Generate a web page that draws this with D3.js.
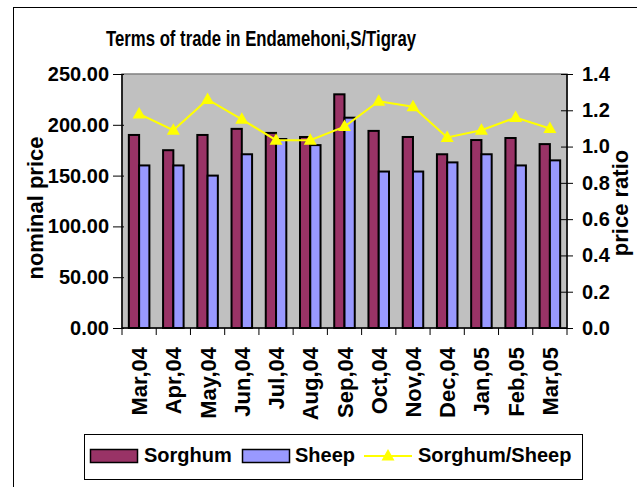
<!DOCTYPE html>
<html>
<head>
<meta charset="utf-8">
<script src="https://cdn.jsdelivr.net/npm/d3@7/dist/d3.min.js"></script>
<style>
  html, body { margin: 0; padding: 0; background: #fff; }
  svg { display: block; }
  text { font-family: "Liberation Sans", Arial, sans-serif; font-weight: bold; fill: #000; }
</style>
</head>
<body>
<script>
const months = ["Mar,04","Apr,04","May,04","Jun,04","Jul,04","Aug,04","Sep,04","Oct,04","Nov,04","Dec,04","Jan,05","Feb,05","Mar,05"];
const sorghum = [190, 175, 190, 196, 192, 188, 230, 194, 188, 171, 185, 187, 181];
const sheep   = [160, 160, 150, 171, 186, 180, 207, 154, 154, 163, 171, 160, 165];
const ratio   = [1.18, 1.09, 1.26, 1.15, 1.035, 1.035, 1.11, 1.25, 1.22, 1.05, 1.09, 1.16, 1.10];
const leftTicks = [0, 50, 100, 150, 200, 250];
const rightTicks = [0, 0.2, 0.4, 0.6, 0.8, 1.0, 1.2, 1.4];
const seriesNames = ["Sorghum", "Sheep", "Sorghum/Sheep"];
const colors = { Sorghum: "#993366", Sheep: "#9999FF", line: "#FFFF00" };

const W = 637, H = 487;
const L = 122, R = 567, T = 74, B = 328;

const svg = d3.select("body").append("svg").attr("width", W).attr("height", H);

// outer chart border (right/bottom outside the picture)
svg.append("rect").attr("x", 13.5).attr("y", 7.5).attr("width", 800).attr("height", 800)
  .attr("fill", "none").attr("stroke", "#000").attr("stroke-width", 1);

// title
svg.append("text").attr("x", 106).attr("y", 46).attr("font-size", 22)
  .attr("textLength", 310).attr("lengthAdjust", "spacingAndGlyphs")
  .text("Terms of trade in Endamehoni,S/Tigray");

const x = d3.scaleBand().domain(months).range([L, R]).paddingInner(0.4).paddingOuter(0.2);
const xs = d3.scaleBand().domain(["Sorghum", "Sheep"]).range([0, x.bandwidth()]);
const y = d3.scaleLinear().domain([0, 250]).range([B, T]);
const y2 = d3.scaleLinear().domain([0, 1.4]).range([B, T]);

// plot area
svg.append("rect").attr("x", L).attr("y", T).attr("width", R - L).attr("height", B - T)
  .attr("fill", "#C0C0C0").attr("stroke", "#808080").attr("stroke-width", 1.5);

// bars
const data = months.map((m, i) => ({ m, Sorghum: sorghum[i], Sheep: sheep[i] }));
const g = svg.append("g");
data.forEach(d => {
  ["Sorghum", "Sheep"].forEach(k => {
    g.append("rect")
      .attr("x", x(d.m) + xs(k))
      .attr("y", y(d[k]))
      .attr("width", xs.bandwidth())
      .attr("height", y(0) - y(d[k]))
      .attr("fill", colors[k]).attr("stroke", "#000").attr("stroke-width", 2);
  });
});

// axes
const axL = svg.append("g").attr("transform", `translate(${L},0)`)
  .call(d3.axisLeft(y).tickValues(leftTicks).tickFormat(d3.format(".2f")).tickSize(9).tickPadding(4));
axL.selectAll(".tick line").attr("x2", -9).attr("x1", 2);
const axR = svg.append("g").attr("transform", `translate(${R},0)`)
  .call(d3.axisRight(y2).tickValues(rightTicks).tickFormat(d3.format(".1f")).tickSize(6).tickPadding(9));
axR.selectAll(".tick line").attr("x1", -6).attr("x2", 6);
const axB = svg.append("g").attr("transform", `translate(0,${B})`)
  .call(d3.axisBottom(x).tickValues([]).tickSizeOuter(0));
// category boundary ticks
const bounds = months.map(m => x(m) - x.step() * x.paddingInner() / 2).concat([R]);
svg.append("g").selectAll("line").data(bounds).join("line")
  .attr("x1", d => d).attr("x2", d => d).attr("y1", B).attr("y2", B + 7)
  .attr("stroke", "#000").attr("stroke-width", 1);

[axL, axR, axB].forEach(a => {
  a.selectAll(".domain").attr("stroke", "#000").attr("stroke-width", 1.5);
  a.selectAll(".tick line").attr("stroke", "#000");
  a.selectAll("text").attr("font-size", 20).attr("font-family", "Liberation Sans, Arial, sans-serif")
    .attr("font-weight", "bold").attr("fill", "#000");
});
axL.select(".domain").attr("d", `M0,${T}V${B}`);
axR.select(".domain").attr("d", `M0,${T}V${B}`);
axB.select(".domain").attr("d", `M${L},0H${R}`);

// x labels
svg.append("g").selectAll("text").data(months).join("text")
  .attr("transform", d => `translate(${x(d) + x.bandwidth() / 2 + 8},347) rotate(-90)`)
  .attr("text-anchor", "end").attr("font-size", 22).text(d => d);

// axis titles
svg.append("text").attr("transform", "translate(43,208) rotate(-90)")
  .attr("text-anchor", "middle").attr("font-size", 22).text("nominal price");
svg.append("text").attr("transform", "translate(628,203) rotate(-90)")
  .attr("text-anchor", "middle").attr("font-size", 22).text("price ratio");

// ratio line
const cx = d => x(d.m) + x.bandwidth() / 2;
const lineData = months.map((m, i) => ({ m, v: ratio[i] }));
svg.append("path").datum(lineData)
  .attr("d", d3.line().x(cx).y(d => y2(d.v)))
  .attr("fill", "none").attr("stroke", colors.line).attr("stroke-width", 2);
const tri = "M0,-7L6.5,4.5L-6.5,4.5Z";
svg.append("g").selectAll("path").data(lineData).join("path")
  .attr("transform", d => `translate(${cx(d)},${y2(d.v)})`)
  .attr("d", tri).attr("fill", colors.line);

// legend
const lg = svg.append("g");
lg.append("rect").attr("x", 84.5).attr("y", 434.5).attr("width", 498).attr("height", 45)
  .attr("fill", "#fff").attr("stroke", "#000").attr("stroke-width", 1);
lg.append("rect").attr("x", 90.5).attr("y", 449.5).attr("width", 47).attr("height", 13)
  .attr("fill", colors.Sorghum).attr("stroke", "#000").attr("stroke-width", 1.5);
lg.append("text").attr("x", 144).attr("y", 462).attr("font-size", 20).text(seriesNames[0]);
lg.append("rect").attr("x", 242.5).attr("y", 449.5).attr("width", 47).attr("height", 13)
  .attr("fill", colors.Sheep).attr("stroke", "#000").attr("stroke-width", 1.5);
lg.append("text").attr("x", 295).attr("y", 462).attr("font-size", 20).text(seriesNames[1]);
lg.append("line").attr("x1", 364).attr("x2", 412).attr("y1", 456).attr("y2", 456)
  .attr("stroke", colors.line).attr("stroke-width", 2);
lg.append("path").attr("transform", "translate(388,456)").attr("d", tri).attr("fill", colors.line);
lg.append("text").attr("x", 418).attr("y", 462).attr("font-size", 20).text(seriesNames[2]);
</script>
</body>
</html>
